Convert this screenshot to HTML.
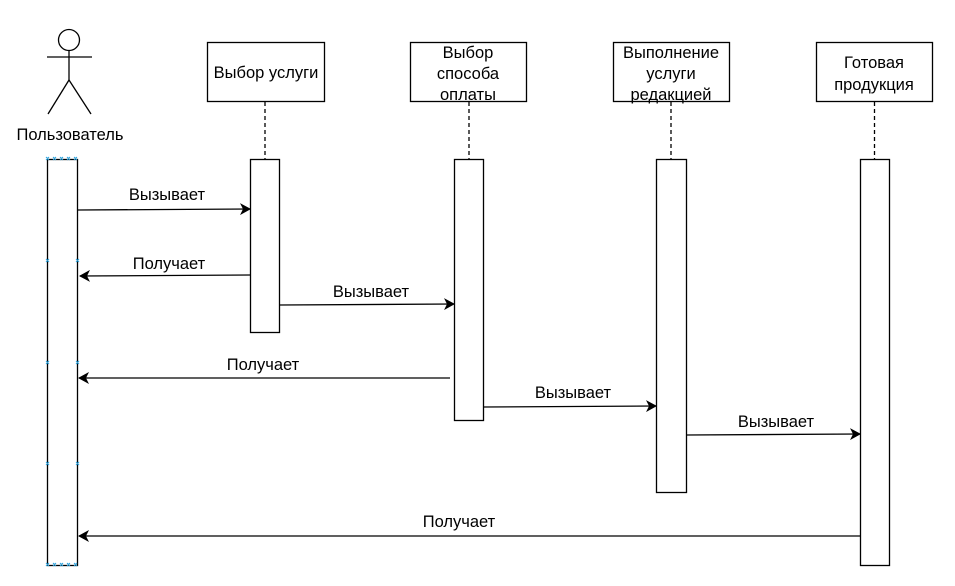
<!DOCTYPE html>
<html><head><meta charset="utf-8"><style>
html,body{margin:0;padding:0;background:#fff;}
svg{display:block;}
text{font-family:"Liberation Sans",sans-serif;font-size:16.5px;fill:#000;}
</style></head><body>
<svg width="955" height="586" viewBox="0 0 955 586" xmlns="http://www.w3.org/2000/svg">
<defs>
<marker id="a" markerWidth="12" markerHeight="12" refX="10" refY="6" orient="auto" markerUnits="userSpaceOnUse">
<path d="M0,0 L11,6 L0,12 L3,6 Z" fill="#000"/>
</marker>
</defs>
<g stroke="#000" stroke-width="1.3" fill="none">
<circle cx="69" cy="40" r="10.5" fill="#fff"/>
<line x1="69" y1="50.5" x2="69" y2="80"/>
<line x1="47" y1="57" x2="92" y2="57"/>
<line x1="69" y1="80" x2="48" y2="114"/>
<line x1="69" y1="80" x2="91" y2="114"/>
</g>
<text x="70" y="140" text-anchor="middle">Пользователь</text>
<g stroke="#000" stroke-width="1.3" fill="#fff">
<rect x="207.5" y="42.5" width="117" height="59"/>
<rect x="410.5" y="42.5" width="116" height="59"/>
<rect x="613.5" y="42.5" width="116" height="59"/>
<rect x="816.5" y="42.5" width="116" height="59"/>
</g>
<text x="266" y="78" text-anchor="middle">Выбор услуги</text>
<text x="468" y="58" text-anchor="middle">Выбор</text>
<text x="468" y="79" text-anchor="middle">способа</text>
<text x="468" y="100" text-anchor="middle">оплаты</text>
<text x="671" y="58" text-anchor="middle">Выполнение</text>
<text x="671" y="79" text-anchor="middle">услуги</text>
<text x="671" y="100" text-anchor="middle">редакцией</text>
<text x="874" y="68" text-anchor="middle">Готовая</text>
<text x="874" y="90" text-anchor="middle">продукция</text>
<g stroke="#000" stroke-width="1.3" stroke-dasharray="4,3">
<line x1="265" y1="102" x2="265" y2="159"/>
<line x1="469" y1="102" x2="469" y2="159"/>
<line x1="671" y1="102" x2="671" y2="159"/>
<line x1="874.5" y1="102" x2="874.5" y2="159"/>
</g>
<g stroke="#000" stroke-width="1.3" fill="#fff">
<rect x="47.5" y="159.5" width="30" height="406"/>
<rect x="250.5" y="159.5" width="29" height="173"/>
<rect x="454.5" y="159.5" width="29" height="261"/>
<rect x="656.5" y="159.5" width="30" height="333"/>
<rect x="860.5" y="159.5" width="29" height="406"/>
</g>
<g stroke="#29a3e0" stroke-width="1" fill="none">
<path d="M46,157 l3,3 m0,-3 l-3,3 M53,157 l3,3 m0,-3 l-3,3 M60,157 l3,3 m0,-3 l-3,3 M67,157 l3,3 m0,-3 l-3,3 M74,157 l3,3 m0,-3 l-3,3"/>
<path d="M46,563 l3,3 m0,-3 l-3,3 M53,563 l3,3 m0,-3 l-3,3 M60,563 l3,3 m0,-3 l-3,3 M67,563 l3,3 m0,-3 l-3,3 M74,563 l3,3 m0,-3 l-3,3"/>
<path d="M46,259 l3,3 m0,-3 l-3,3 M76,259 l3,3 m0,-3 l-3,3"/>
<path d="M46,361 l3,3 m0,-3 l-3,3 M76,361 l3,3 m0,-3 l-3,3"/>
<path d="M46,462 l3,3 m0,-3 l-3,3 M76,462 l3,3 m0,-3 l-3,3"/>
</g>
<g stroke="#000" stroke-width="1.3" marker-end="url(#a)">
<line x1="78" y1="210" x2="250" y2="209"/>
<line x1="250" y1="275" x2="80" y2="276"/>
<line x1="280" y1="305" x2="454" y2="304"/>
<line x1="450" y1="378" x2="79" y2="378"/>
<line x1="484" y1="407" x2="656" y2="406"/>
<line x1="687" y1="435" x2="860" y2="434"/>
<line x1="860" y1="536" x2="79" y2="536"/>
</g>
<text x="167" y="200" text-anchor="middle">Вызывает</text>
<text x="169" y="269" text-anchor="middle">Получает</text>
<text x="371" y="297" text-anchor="middle">Вызывает</text>
<text x="263" y="370" text-anchor="middle">Получает</text>
<text x="573" y="398" text-anchor="middle">Вызывает</text>
<text x="776" y="427" text-anchor="middle">Вызывает</text>
<text x="459" y="527" text-anchor="middle">Получает</text>
</svg>
</body></html>
